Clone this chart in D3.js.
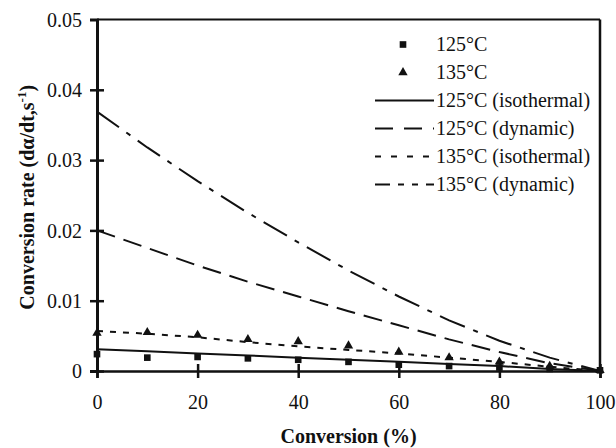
<!DOCTYPE html>
<html>
<head>
<meta charset="utf-8">
<script src="https://cdn.jsdelivr.net/npm/d3@7"></script>
<style>
  html, body { margin: 0; padding: 0; background: #fff; }
  svg { display: block; font-family: "Liberation Serif", "Times New Roman", serif; }
</style>
</head>
<body>
<svg id="chart" width="616" height="448"></svg>
<script>
// Conversion (%) at which every series is sampled
const conversion = [0, 10, 20, 30, 40, 50, 60, 70, 80, 90, 100];

// Measured conversion rates (dα/dt, 1/s)
const measured125 = [0.0024, 0.0019, 0.0020, 0.0018, 0.0016, 0.0013, 0.0009, 0.0007, 0.0005, 0.0003, 0.0001];
const measured135 = [0.0054, 0.0055, 0.0051, 0.0045, 0.0042, 0.0036, 0.0027, 0.0019, 0.0013, 0.0007, 0.0001];

// Model predictions
const iso125 = [0.0031, 0.0028, 0.0025, 0.0022, 0.0019, 0.0016, 0.0013, 0.0010, 0.0007, 0.0003, 0.0];
const dyn125 = [0.0200, 0.0175, 0.0150, 0.0127, 0.0106, 0.0085, 0.0065, 0.0045, 0.0027, 0.0011, 0.0];
const iso135 = [0.0057, 0.0053, 0.0048, 0.0041, 0.0035, 0.0030, 0.0025, 0.0019, 0.0013, 0.0006, 0.0];
const dyn135 = [0.0369, 0.0318, 0.0270, 0.0225, 0.0183, 0.0143, 0.0106, 0.0072, 0.0043, 0.0019, 0.0];

const xTicks = [0, 20, 40, 60, 80, 100];
const yTicks = [0, 0.01, 0.02, 0.03, 0.04, 0.05];

const legendLabels = ["125°C", "135°C", "125°C (isothermal)", "125°C (dynamic)", "135°C (isothermal)", "135°C (dynamic)"];

const svg = d3.select("#chart");
const plotLeft = 97, plotRight = 600, plotTop = 19.5, plotBottom = 371;
const serif = "'Liberation Serif', 'Times New Roman', serif";

const x = d3.scaleLinear().domain([0, 100]).range([plotLeft, plotRight]);
const y = d3.scaleLinear().domain([0, 0.05]).range([plotBottom, plotTop]);

// Frame: top and right borders
svg.append("line").attr("x1", plotLeft).attr("x2", plotRight).attr("y1", plotTop).attr("y2", plotTop)
  .attr("stroke", "#111").attr("stroke-width", 2);
svg.append("line").attr("x1", plotRight).attr("x2", plotRight).attr("y1", plotTop).attr("y2", plotBottom)
  .attr("stroke", "#111").attr("stroke-width", 2.5);

// Axes with ticks crossing the axis line
const xAxis = svg.append("g").attr("transform", `translate(0,${plotBottom})`)
  .call(d3.axisBottom(x).tickValues(xTicks).tickSize(7).tickFormat(d3.format("d")));
const yAxis = svg.append("g").attr("transform", `translate(${plotLeft},0)`)
  .call(d3.axisLeft(y).tickValues(yTicks).tickSize(7)
    .tickFormat(d => d === 0 ? "0" : d3.format(".2f")(d)));

[xAxis, yAxis].forEach(g => {
  g.attr("font-family", serif).attr("font-size", 20);
  g.select(".domain").attr("stroke", "#111");
  g.selectAll(".tick line").attr("stroke", "#111").attr("stroke-width", 2.5);
  g.selectAll(".tick text").attr("fill", "#111");
});
xAxis.select(".domain").attr("stroke-width", 2.5);
yAxis.select(".domain").attr("stroke-width", 3);
xAxis.selectAll(".tick line").attr("y1", -7).attr("y2", 7);
xAxis.selectAll(".tick text").attr("y", 38).attr("dy", 0);
yAxis.selectAll(".tick line").attr("x1", 7).attr("x2", -7);
yAxis.selectAll(".tick text").attr("x", -15).attr("dy", "0.33em");
yAxis.selectAll(".tick").filter(d => d === 0.05).select("line").remove();

// Axis titles
svg.append("text").attr("x", (plotLeft + plotRight) / 2).attr("y", 443)
  .attr("text-anchor", "middle").attr("font-weight", "bold").attr("font-size", 20)
  .attr("font-family", serif).attr("fill", "#111").text("Conversion (%)");
const yTitle = svg.append("text")
  .attr("transform", `translate(34,${(plotTop + plotBottom) / 2 + 2}) rotate(-90)`)
  .attr("text-anchor", "middle").attr("font-weight", "bold").attr("font-size", 20)
  .attr("font-family", serif).attr("fill", "#111");
yTitle.append("tspan").text("Conversion rate (dα/dt,s");
yTitle.append("tspan").attr("dy", -8).attr("font-size", 13).text("-1");
yTitle.append("tspan").attr("dy", 8).text(")");

// Model curves
const lineSeries = [
  { values: iso125, dash: null },
  { values: dyn125, dash: "19,9" },
  { values: iso135, dash: "6,7" },
  { values: dyn135, dash: "27,9,5,9" }
];
const line = d3.line().x((d, i) => x(conversion[i])).y(d => y(d));
lineSeries.forEach(s => {
  svg.append("path").datum(s.values).attr("d", line)
    .attr("fill", "none").attr("stroke", "#111").attr("stroke-width", 2)
    .attr("stroke-dasharray", s.dash);
});

// Measured points
const square = d3.symbol().type(d3.symbolSquare).size(44);
const triangle = d3.symbol().type(d3.symbolTriangle).size(38);
svg.append("g").selectAll("path").data(measured125).join("path")
  .attr("d", square).attr("fill", "#111")
  .attr("transform", (d, i) => `translate(${x(conversion[i])},${y(d)})`);
svg.append("g").selectAll("path").data(measured135).join("path")
  .attr("d", triangle).attr("fill", "#111")
  .attr("transform", (d, i) => `translate(${x(conversion[i])},${y(d)})`);

// Legend
const legend = svg.append("g").attr("font-family", serif);
const rowY = i => 44.5 + i * 28;
const sampleX0 = 375, sampleX1 = 434, textX = 436;
legend.append("path").attr("d", square).attr("fill", "#111")
  .attr("transform", `translate(403,${rowY(0)})`);
legend.append("path").attr("d", triangle).attr("fill", "#111")
  .attr("transform", `translate(403,${rowY(1)})`);
const legendDash = [null, "18,11", "6,10", "15,8,6,8,6,8"];
legendDash.forEach((dash, k) => {
  legend.append("line").attr("x1", sampleX0).attr("x2", sampleX1)
    .attr("y1", rowY(k + 2)).attr("y2", rowY(k + 2))
    .attr("stroke", "#111").attr("stroke-width", 2).attr("stroke-dasharray", dash);
});
legendLabels.forEach((t, i) => {
  legend.append("text").attr("x", textX).attr("y", rowY(i) + 6.5)
    .attr("font-size", 20).attr("fill", "#111").text(t);
});
</script>
</body>
</html>
